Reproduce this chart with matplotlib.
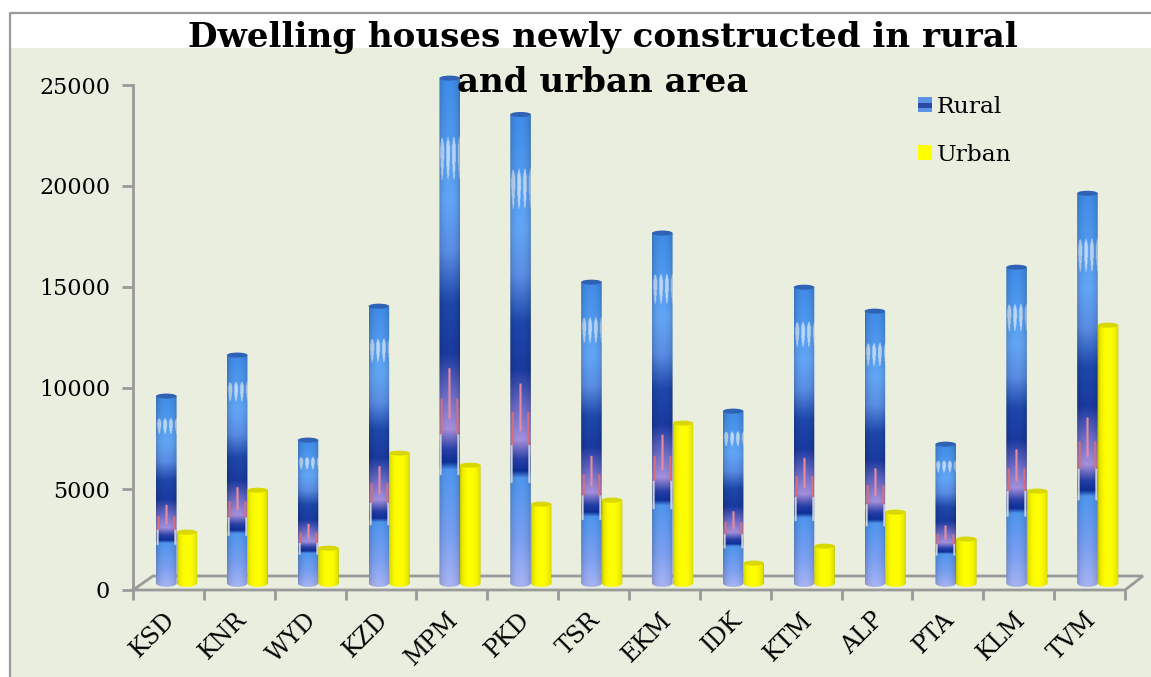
import matplotlib
matplotlib.use('Agg')
import matplotlib.pyplot as plt
import numpy as np
from matplotlib.colors import to_rgb
from matplotlib.legend_handler import HandlerBase
from matplotlib.patches import Ellipse, PathPatch, Patch, Rectangle
from matplotlib.path import Path

categories = ['KSD', 'KNR', 'WYD', 'KZD', 'MPM', 'PKD', 'TSR', 'EKM', 'IDK', 'KTM', 'ALP', 'PTA', 'KLM', 'TVM']
rural = [9260, 11290, 7080, 13710, 25000, 23200, 14900, 17330, 8515, 14650, 13465, 6880, 15640, 19300]
urban = [2525, 4600, 1730, 6435, 5840, 3910, 4110, 7920, 990, 1830, 3515, 2180, 4555, 12770]
y_ticks = [0, 5000, 10000, 15000, 20000, 25000]

W, H = 1151, 677
GREY = '#9a9a9a'
BG = '#e9eedf'
SERIF = 'DejaVu Serif'

# 3D look: bars stand a little behind the front edge of the floor
depth_y = 340
depth_x = 0.115
bar_w = 0.29
cap_h = 250


def rural_texture():
    # colour stops along the height of the bar, 0 = bottom
    stops = [(0.0, '#a8b4f4'), (0.10, '#7aa0f2'), (0.23, '#4f96ee'), (0.245, '#0e2f98'),
             (0.27, '#2840a8'), (0.31, '#a590dc'), (0.38, '#6a6cc8'), (0.46, '#1a3aa0'),
             (0.56, '#1e48ac'), (0.66, '#5a8ee4'), (0.76, '#62a6f6'), (1.0, '#3f8ce8')]
    n, m = 400, 40
    pos = [s[0] for s in stops]
    cols = np.array([to_rgb(s[1]) for s in stops])
    t = np.linspace(0, 1, n)
    img = np.zeros((n, m, 3))
    for c in range(3):
        img[:, :, c] = np.interp(t, pos, cols[:, c])[:, None]
    u = np.linspace(0, 1, m)
    tt = t[:, None]
    uu = u[None, :]
    # pale spikes near the top, pointing down
    spike = np.abs(np.sin(uu * np.pi * 3.5)) ** 2
    mask = (tt > 0.86 - 0.06 * spike) & (tt < 0.86 + 0.025 * spike) & (spike > 0.25)
    img[mask] = img[mask] * 0.4 + 0.6
    # red and white streaks near the dark band
    for x0, c, lo, hi in [(0.12, '#e87a8c', 0.30, 0.37), (0.5, '#ee8a9a', 0.33, 0.43),
                          (0.88, '#e87a8c', 0.30, 0.37), (0.06, '#e6ecf8', 0.22, 0.30),
                          (0.94, '#e6ecf8', 0.22, 0.30)]:
        mask = (np.abs(uu - x0) < 0.05) & (tt > lo) & (tt < hi)
        img[mask] = to_rgb(c)
    # darker at the sides so it reads as a cylinder
    shade = 0.78 + 0.22 * np.sin(uu * np.pi) ** 0.5
    return np.clip(img * shade[:, :, None], 0, 1)


def yellow_texture():
    u = np.linspace(0, 1, 40)
    shade = 0.75 + 0.25 * np.sin(u * np.pi) ** 0.4
    img = np.zeros((1, 40, 3))
    img[0, :, 0] = shade
    img[0, :, 1] = shade
    return img


def cylinder(ax, x, val, tex, cap_col):
    x0, x1 = x - bar_w / 2, x + bar_w / 2
    top = val + depth_y
    bot = depth_y
    k = 0.5523
    low = cap_h * 0.75
    verts = [(x0, top), (x0, bot), (x0, bot - low * k), (x - bar_w / 2 * k, bot - low), (x, bot - low),
             (x + bar_w / 2 * k, bot - low), (x1, bot - low * k), (x1, bot), (x1, top), (x0, top)]
    codes = [Path.MOVETO, Path.LINETO, Path.CURVE4, Path.CURVE4, Path.CURVE4,
             Path.CURVE4, Path.CURVE4, Path.CURVE4, Path.LINETO, Path.CLOSEPOLY]
    clip = PathPatch(Path(verts, codes), fc='none', ec='none', transform=ax.transData)
    ax.add_patch(clip)
    im = ax.imshow(tex, extent=(x0, x1, bot - low, top), origin='lower', aspect='auto', zorder=3,
                   interpolation='bilinear')
    # the tallest bar goes above the axes box
    im.set_clip_box(ax.figure.bbox)
    im.set_clip_path(clip)
    ax.add_patch(Ellipse((x, top), bar_w, cap_h, fc=cap_col, ec='none', zorder=3.2, clip_on=False))


class RuralHandle(HandlerBase):
    # little blue swatch with a dark band across it
    def create_artists(self, legend, orig, xd, yd, width, height, fontsize, trans):
        a = Rectangle((-xd, -yd), width, height, fc='#5b94e6', ec='none', transform=trans)
        b = Rectangle((-xd, -yd + height * 0.3), width, height * 0.3, fc='#2a4aa6', ec='none', transform=trans)
        return [a, b]


fig = plt.figure(figsize=(W / 100, H / 100), dpi=100, facecolor='white')
fig.add_artist(Rectangle((11 / W, 0), 1 - 11 / W, 1 - 48 / H, transform=fig.transFigure, fc=BG, ec='none', zorder=-2))
fig.add_artist(plt.Line2D([9.5 / W, 9.5 / W, 1], [0, 1 - 12.5 / H, 1 - 12.5 / H], color=GREY, lw=1.6, zorder=-1))

ax = fig.add_axes([133 / W, 1 - 590 / H, (1125 - 133) / W, (590 - 85) / H])
ax.patch.set_visible(False)
for s in ['top', 'right', 'bottom']:
    ax.spines[s].set_visible(False)
ax.spines['left'].set(color=GREY, lw=2)

# floor of the 3D box
fl_dx = 20 / 70.86
fl_dy = 14 / 0.0202
n = len(categories)
ax.plot([0, fl_dx, n + fl_dx - 2 / 70.86, n, 0], [0, fl_dy, fl_dy, 0, 0], color=GREY, lw=2, clip_on=False,
        solid_joinstyle='miter', zorder=1)

rural_tex = rural_texture()
yellow_tex = yellow_texture()
for i in range(n):
    cylinder(ax, i + 0.5 - 0.145 + depth_x, rural[i], rural_tex, '#2f62b4')
    cylinder(ax, i + 0.5 + 0.145 + depth_x, urban[i], yellow_tex, '#d8d800')

ax.set_xlim(0, n)
ax.set_ylim(0, 25000)
ax.set_yticks(y_ticks)
ax.tick_params(axis='y', length=8, width=2, color=GREY, pad=8.5, labelsize=16)
ax.set_xticks(np.arange(n + 1))
ax.set_xticklabels([])
ax.tick_params(axis='x', which='major', length=7, width=2, color=GREY)
ax.set_xticks(np.arange(n) + 0.43, minor=True)
ax.set_xticklabels(categories, minor=True, rotation=45, ha='right', rotation_mode='anchor', fontsize=17,
                   family=SERIF)
ax.tick_params(axis='x', which='minor', length=0, pad=13)
for lab in ax.get_yticklabels():
    lab.set_family(SERIF)

# two separate lines so the box of the text stays clear of the legend
fig.text(603 / W, 1 - 38 / H, 'Dwelling houses newly constructed in rural', ha='center', va='center',
         fontsize=24.6, fontweight='bold', family=SERIF, zorder=5)
fig.text(603 / W, 1 - 82 / H, 'and urban area', ha='center', va='center',
         fontsize=24.6, fontweight='bold', family=SERIF, zorder=5)

handles = [Patch(label='Rural'), Patch(label='Urban', fc='#ffff00')]
fig.legend(handles=handles, loc='upper left', bbox_to_anchor=(897 / W, 1 - 75 / H), frameon=False,
           prop={'family': SERIF, 'size': 16.8}, handlelength=0.6, handleheight=0.6, handletextpad=0.2,
           labelspacing=1.1, handler_map={handles[0]: RuralHandle()})

fig.savefig('out.png', dpi=100)
